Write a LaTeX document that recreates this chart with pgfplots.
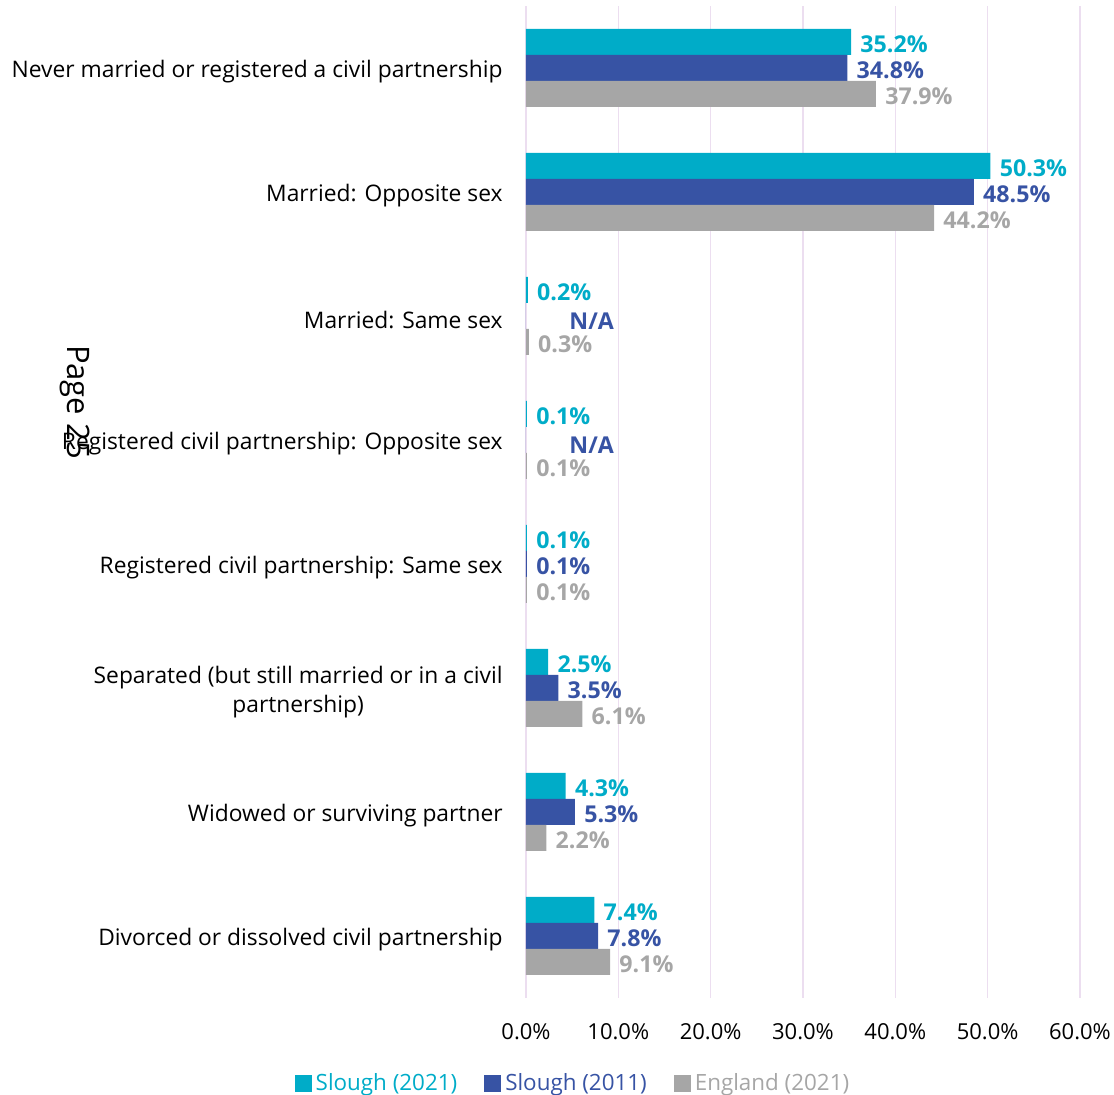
\documentclass[border=0pt]{standalone}
\usepackage{pgfplots}
\pgfplotsset{compat=1.18}
\usepackage{fontspec}
\setmainfont{Open Sans}
\definecolor{cA}{RGB}{0,172,200}
\definecolor{cB}{RGB}{55,83,164}
\definecolor{cC}{RGB}{166,166,166}
\definecolor{gridc}{RGB}{236,222,240}
\newcommand{\NA}{\hspace*{17pt}\raisebox{-5.6pt}[0pt][0pt]{N/A}}
\begin{document}
\begin{tikzpicture}
\begin{axis}[
  xbar, scale only axis, width=277pt, height=496pt,
  xmin=0, xmax=60, ymin=-0.5, ymax=7.5,
  axis line style={draw=none},
  major tick length=0pt,
  xtick={0,10,...,60},
  xmajorgrids, grid style={gridc, line width=0.8pt},
  ytick={0,...,7},
  yticklabels={Divorced or dissolved civil partnership,
    Widowed or surviving partner,
    {Separated (but still married or in a civil\\partnership)},
    {Registered civil partnership: Same sex},
    {Registered civil partnership: Opposite sex},
    {Married: Same sex},
    {Married: Opposite sex},
    Never married or registered a civil partnership},
  yticklabel style={align=center, anchor=east, inner sep=0pt, xshift=-11.5pt, yshift=-2pt, font=\fontsize{11.4}{14.5}\selectfont},
  /pgf/number format/assume math mode=true,
  xticklabel={\pgfmathprintnumber[fixed,fixed zerofill,precision=1]{\tick}\%},
  xticklabel style={anchor=center, inner sep=0pt, yshift=-17pt, font=\fontsize{11}{13}\selectfont},
  bar width=13pt,
  nodes near coords, point meta=explicit symbolic,
  nodes near coords style={anchor=west, inner sep=0pt, xshift=4.5pt, yshift=-1pt, font=\fontsize{11.6}{13}\selectfont\bfseries},
  legend style={at={(axis description cs:0.0866,-0.0862)}, anchor=center, draw=none, fill=none,
    legend columns=3, font=\fontsize{11.2}{13}\selectfont, inner sep=0pt,
    /tikz/every even column/.append style={column sep=11.5pt}},
  legend image code/.code={\fill[#1] (0pt,-4.25pt) rectangle (8.5pt,4.25pt);},
]
\addplot[fill=cA, draw=none, bar shift=13pt, every node near coord/.append style={text=cA}] coordinates {
  (35.2,7) [35.2\%]
  (50.3,6) [50.3\%]
  (0.2,5) [0.2\%]
  (0.1,4) [0.1\%]
  (0.1,3) [0.1\%]
  (2.4,2) [2.5\%]
  (4.3,1) [4.3\%]
  (7.4,0) [7.4\%]
};
\addlegendentry{\textcolor{cA}{Slough (2021)}}
\addplot[fill=cB, draw=none, bar shift=0pt, every node near coord/.append style={text=cB}] coordinates {
  (34.8,7) [34.8\%]
  (48.5,6) [48.5\%]
  (0,5) [\NA]
  (0,4) [\NA]
  (0.1,3) [0.1\%]
  (3.5,2) [3.5\%]
  (5.3,1) [5.3\%]
  (7.8,0) [7.8\%]
};
\addlegendentry{\textcolor{cB}{Slough (2011)}}
\addplot[fill=cC, draw=none, bar shift=-13pt, every node near coord/.append style={text=cC}] coordinates {
  (37.9,7) [37.9\%]
  (44.2,6) [44.2\%]
  (0.3,5) [0.3\%]
  (0.1,4) [0.1\%]
  (0.1,3) [0.1\%]
  (6.1,2) [6.1\%]
  (2.2,1) [2.2\%]
  (9.1,0) [9.1\%]
};
\addlegendentry{\textcolor{cC}{England (2021)}}
\end{axis}
\node[rotate=-90, font=\fontsize{15.5}{17}\selectfont] at ([shift={(-225.5pt,298pt)}]current axis.south west) {Page 25};
\pgfresetboundingbox
\path ([shift={(-263pt,-48.5pt)}]current axis.south west) rectangle ([shift={(294pt,499pt)}]current axis.south west);
\end{tikzpicture}
\end{document}
